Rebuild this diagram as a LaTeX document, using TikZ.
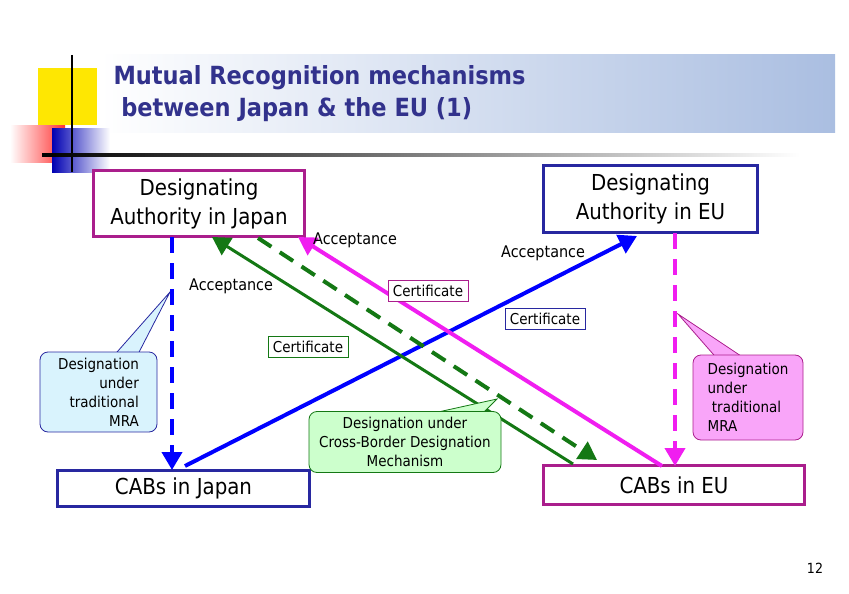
\documentclass[tikz,border=0pt]{standalone}
\usepackage{fontspec}
\setmainfont{DejaVu Sans Condensed}
\usetikzlibrary{arrows.meta}
\definecolor{navy}{RGB}{40,40,160}
\definecolor{titleblue}{RGB}{50,50,140}
\definecolor{mag}{RGB}{170,30,140}
\definecolor{pink}{RGB}{240,30,240}
\definecolor{dgreen}{RGB}{20,120,20}
\definecolor{bandblue}{RGB}{170,190,225}
\begin{document}
\begin{tikzpicture}[x=1pt,y=-1pt,
  box/.style={draw,line width=2.5pt,fill=white,align=center,font=\fontsize{22}{29}\selectfont,inner sep=0pt},
  lbl/.style={font=\fontsize{16}{18}\selectfont,inner sep=1pt},
  note/.style={draw,line width=0.8pt,fill=white,font=\fontsize{15}{16}\selectfont,inner sep=5pt},
  call/.style={draw,line width=0.8pt,rounded corners=8pt,font=\fontsize{15}{19}\selectfont},
  arr/.style={line width=4pt,-{Triangle[length=18pt,width=20pt]}},
  darr/.style={line width=4pt,dash pattern=on 16pt off 10pt,-{Triangle[length=18pt,width=20pt]}}]
\useasboundingbox (0,0) rectangle (849,594);
% title band and decoration
\shade[left color=white,right color=bandblue] (100,55) rectangle (835,132);
\fill[yellow!90!orange] (38,68) rectangle (97,125);
\shade[left color=white,right color=red!80] (10,125) rectangle (65,162);
\shade[left color=blue!70!black,right color=white] (52,128) rectangle (110,172);
\draw[line width=2pt] (72,55) -- (72,172);
\shade[left color=black,right color=white] (42,153) rectangle (800,156);
\node[anchor=west,text=titleblue,font=\fontsize{25}{32}\selectfont\bfseries,align=left] (title) at (110,94) {Mutual Recognition mechanisms\\\ between Japan \& the EU (1)};
% callout tails
\draw[navy,fill=cyan!15,line width=0.8pt] (110,360) -- (170,292) -- (135,360);
\draw[mag,fill=pink!40,line width=0.8pt] (720,362) -- (678,314) -- (750,362);
% boxes
\node[box,draw=mag,minimum width=211pt,minimum height=66pt] (daj) at (199,203.5) {Designating\\Authority in Japan};
\node[box,draw=navy,minimum width=214pt,minimum height=67pt] (dae) at (650.5,199) {Designating\\Authority in EU};
\node[box,draw=navy,minimum width=252pt,minimum height=36pt] (cj) at (183.5,488.5) {CABs in Japan};
\node[box,draw=mag,minimum width=261pt,minimum height=39pt] (ce) at (674,485) {CABs in EU};
\coordinate (a1) at (172,237); \coordinate (a2) at (172,470);
\coordinate (b1) at (675,233); \coordinate (b2) at (675,466);
\coordinate (c1) at (185,466); \coordinate (c2) at (637,236);
\coordinate (d1) at (662,466); \coordinate (d2) at (298,237);
\coordinate (e1) at (573,464); \coordinate (e2) at (212,237);
\coordinate (f1) at (258,238); \coordinate (f2) at (597,460);
% arrows
\draw[darr,blue] (a1) -- (a2);
\draw[darr,pink] (b1) -- (b2);
\draw[arr,blue] (c1) -- (c2);
\draw[arr,pink] (d1) -- (d2);
\draw[arr,dgreen,line width=3pt] (e1) -- (e2);
\draw[darr,dgreen] (f1) -- (f2);
% labels
\node[lbl,anchor=west] (l1) at (312,240) {Acceptance};
\node[lbl,anchor=west] (l2) at (500,253) {Acceptance};
\node[lbl,anchor=west] (l3) at (188,286) {Acceptance};
\node[note,draw=mag] (n1) at (428,291) {Certificate};
\node[note,draw=navy] (n2) at (545,319) {Certificate};
\node[note,draw=dgreen] (n3) at (308,347) {Certificate};
% callouts
\node[call,fill=cyan!15,draw=navy,align=right,minimum width=117pt,minimum height=80pt] (k1) at (98.5,392) {Designation\\under\\traditional\\MRA};
\node[call,fill=pink!40,draw=mag,align=left,minimum width=110pt,minimum height=85pt] (k2) at (748,397.5) {Designation\\under\\\ traditional\\MRA};
\draw[dgreen,fill=green!20,line width=0.8pt] (420,416) -- (497,399) -- (480,416);
\node[call,fill=green!20,draw=dgreen,align=center,minimum width=192pt,minimum height=61pt] (k3) at (405,442) {Designation under\\Cross-Border Designation\\Mechanism};
\node[font=\fontsize{14}{16}\selectfont] (pg) at (815,568) {12};
\end{tikzpicture}
\end{document}
